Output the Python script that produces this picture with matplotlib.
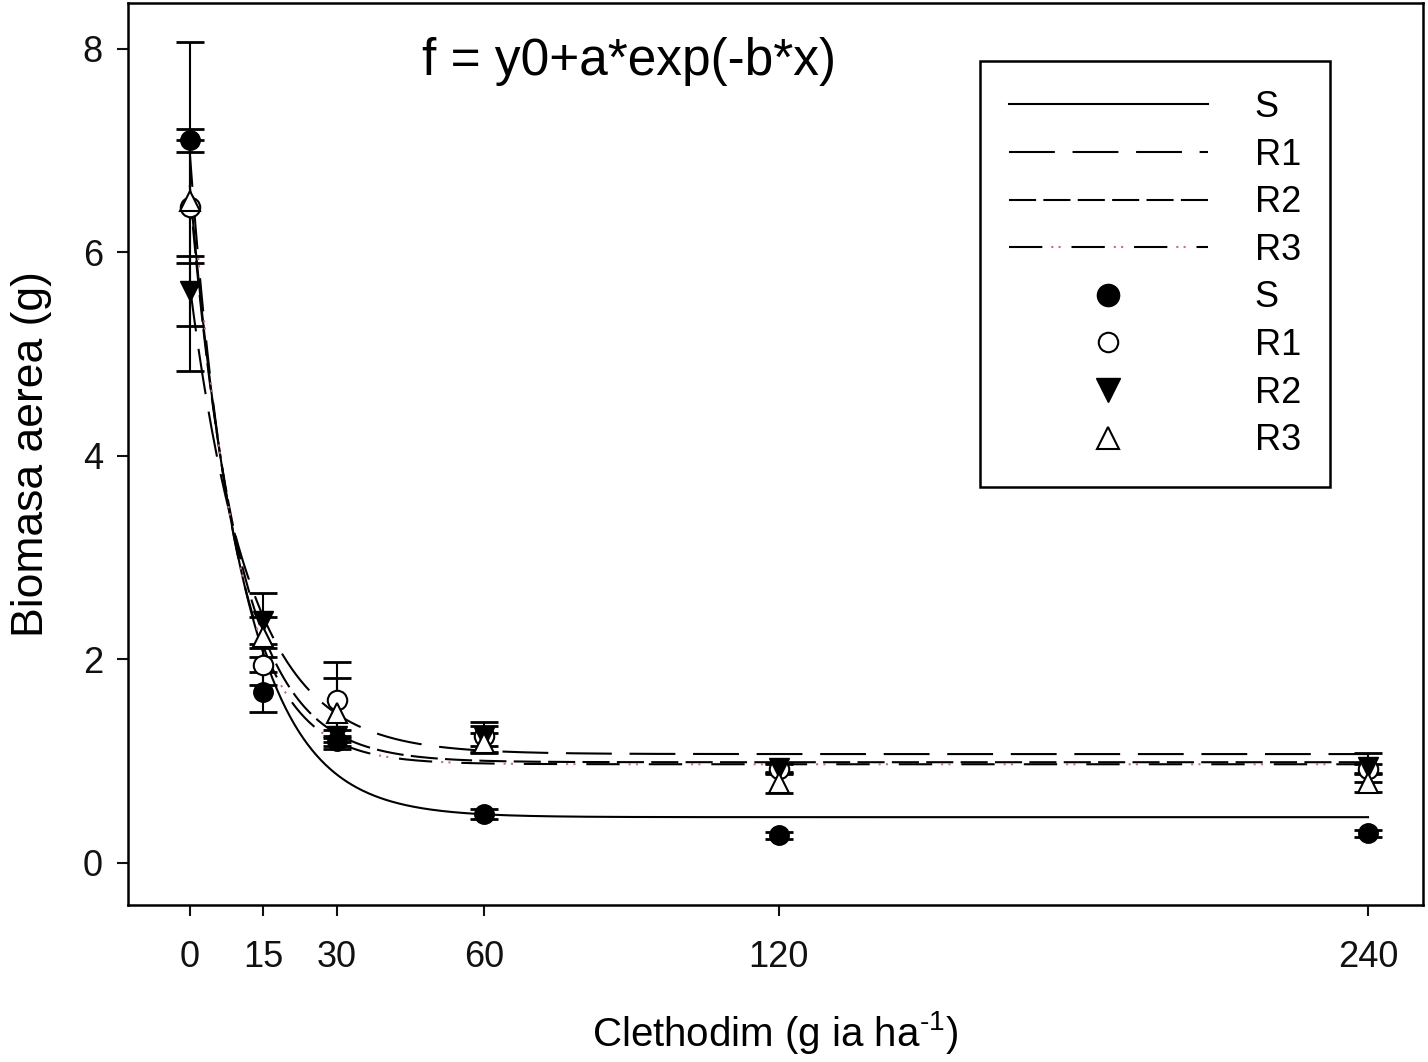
import matplotlib
matplotlib.use("Agg")
import matplotlib.pyplot as plt
import numpy as np
from matplotlib.lines import Line2D

plt.rcParams['font.family'] = ['Liberation Sans', 'DejaVu Sans']

# Clethodim doses (g ia ha-1)
doses = [0, 15, 30, 60, 120, 240]

# mean biomass and error for each biotype
s_mean = [7.10, 1.68, 1.20, 0.48, 0.27, 0.29]
s_err = [0.11, 0.20, 0.05, 0.05, 0.03, 0.03]
r1_mean = [6.45, 1.95, 1.60, 1.25, 0.92, 0.92]
r1_err = [1.62, 0.20, 0.37, 0.10, 0.05, 0.05]
r2_mean = [5.62, 2.38, 1.25, 1.24, 0.93, 0.94]
r2_err = [0.34, 0.27, 0.06, 0.15, 0.05, 0.14]
r3_mean = [6.50, 2.22, 1.47, 1.18, 0.79, 0.79]
r3_err = [0.60, 0.20, 0.35, 0.10, 0.10, 0.09]

# fitted parameters y0, a, b of f = y0 + a*exp(-b*x)
fit_s = (0.45, 6.2, 0.090)
fit_r1 = (1.07, 4.6, 0.082)
fit_r2 = (0.99, 5.6, 0.100)
fit_r3 = (0.97, 6.0, 0.110)

labels = ["S", "R1", "R2", "R3"]


def model(p, x):
    y0, a, b = p
    return y0 + a * np.exp(-b * x)


fig = plt.figure(figsize=(14.28, 10.62), dpi=100)
ax = fig.add_axes([128 / 1428, 157 / 1062, 1295 / 1428, 902 / 1062])

xf = np.linspace(0, 240, 800)
lw = 1.5
l_s, = ax.plot(xf, model(fit_s, xf), color='black', lw=lw)
l_r1, = ax.plot(xf, model(fit_r1, xf), color='black', lw=lw, ls=(0, (22, 8.5)))
l_r2, = ax.plot(xf, model(fit_r2, xf), color='black', lw=lw, ls=(0, (13, 3.5)))
l_r3a, = ax.plot(xf, model(fit_r3, xf), color='black', lw=lw, ls=(0, (16, 14)))
l_r3b, = ax.plot(xf, model(fit_r3, xf), color='#c8707c', lw=lw,
                 ls=(9.7, (1, 2.5, 1, 25.5)))

ekw = dict(ecolor='black', elinewidth=1.5, capsize=10, capthick=2, ls='none', zorder=3)
ax.errorbar(doses, s_mean, yerr=s_err, **ekw)
ax.errorbar(doses, r1_mean, yerr=r1_err, **ekw)
ax.errorbar(doses, r2_mean, yerr=r2_err, **ekw)
ax.errorbar(doses, r3_mean, yerr=r3_err, **ekw)

ax.plot(doses, s_mean, 'o', ms=14, mfc='black', mec='black', zorder=4)
ax.plot(doses, r1_mean, 'o', ms=14, mfc='white', mec='black', mew=1.5, zorder=4)
ax.plot(doses, r2_mean, 'v', ms=15, mfc='black', mec='black', zorder=4)
ax.plot(doses, r3_mean, '^', ms=15, mfc='white', mec='black', mew=1.5, zorder=4)

ax.set_xlim(-12.6, 251.2)
ax.set_ylim(-0.413, 8.45)
ax.set_xticks(doses)
ax.set_yticks([0, 2, 4, 6, 8])
ax.tick_params(direction='out', length=8, width=1.5, labelsize=26, colors='#111111')
ax.tick_params(axis='x', pad=17)
ax.tick_params(axis='y', pad=10)
for sp in ax.spines.values():
    sp.set_linewidth(1.8)

ax.set_xlabel("Clethodim (g ia ha$^{\\mathregular{\u20101}}$)", fontsize=29, labelpad=25)
ax.set_ylabel("Biomasa aerea (g)", fontsize=32, labelpad=22)
ax.text(0.387, 0.935, "f = y0+a*exp(-b*x)", transform=ax.transAxes,
        ha='center', va='center', fontsize=37)

h_pts = [Line2D([], [], ls='none', marker='o', ms=16, mfc='black', mec='black'),
         Line2D([], [], ls='none', marker='o', ms=14, mfc='white', mec='black', mew=1.5),
         Line2D([], [], ls='none', marker='v', ms=17, mfc='black', mec='black'),
         Line2D([], [], ls='none', marker='^', ms=16, mfc='white', mec='black', mew=1.5)]
handles = [l_s, l_r1, l_r2, (l_r3a, l_r3b)] + h_pts
leg = ax.legend(handles, labels + labels, loc='upper left',
                bbox_to_anchor=(0.658, 0.9357), borderaxespad=0,
                fontsize=26, handlelength=5.5, handletextpad=1.3,
                labelspacing=0.35, borderpad=0.8, fancybox=False,
                framealpha=1, edgecolor='black', numpoints=1)
leg.get_frame().set_linewidth(1.8)

fig.savefig("out.png", dpi=100)
